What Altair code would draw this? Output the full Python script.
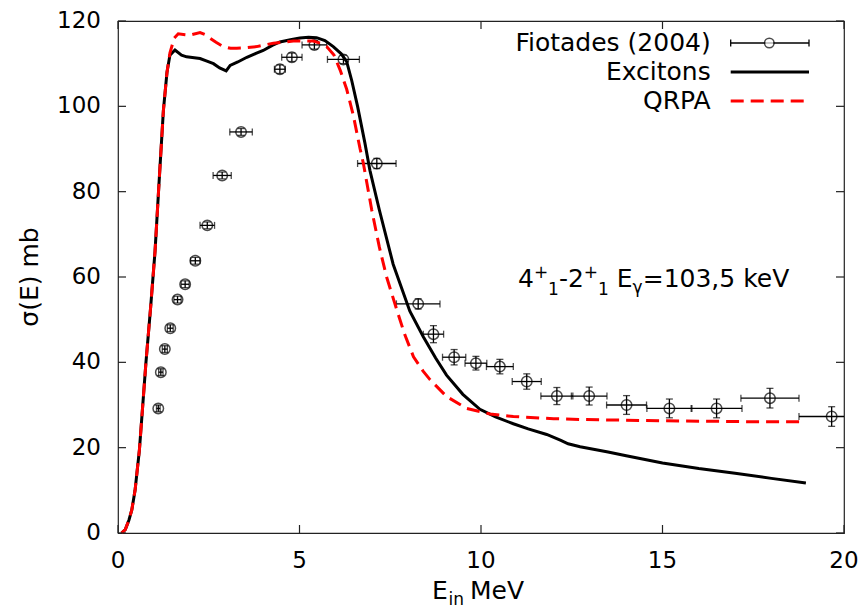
import altair as alt
import pandas as pd

FONT = "DejaVu Sans"

# ---------------- data ----------------
exp_E = [1.11, 1.18, 1.29, 1.44, 1.64, 1.85, 2.13, 2.46, 2.87, 3.39, 4.46, 4.79, 5.41, 6.21,
         7.13, 8.27, 8.69, 9.26, 9.86, 10.52, 11.26, 12.09, 12.98, 14.01, 15.19, 16.49, 17.96, 19.66]
exp_sigma = [29.2, 37.7, 43.1, 48.0, 54.7, 58.3, 63.8, 72.1, 83.8, 94.0, 108.7, 111.5, 114.4, 111.0,
             86.6, 53.7, 46.6, 41.2, 39.8, 39.0, 35.5, 32.1, 32.1, 30.0, 29.2, 29.2, 31.6, 27.3]
exp_dE = [0.05, 0.06, 0.07, 0.08, 0.1, 0.11, 0.13, 0.2, 0.25, 0.31, 0.15, 0.28, 0.34, 0.44,
          0.53, 0.6, 0.28, 0.32, 0.3, 0.37, 0.4, 0.44, 0.49, 0.55, 0.62, 0.7, 0.8, 0.9]
exp_dsigma = [0.8, 0.8, 0.8, 0.8, 0.8, 0.8, 0.8, 0.8, 0.8, 0.8, 1.0, 1.0, 1.0, 1.0,
              1.2, 1.2, 2.0, 1.8, 1.6, 1.7, 1.8, 2.0, 2.1, 2.2, 2.2, 2.2, 2.3, 2.3]

exc_E = [0.1, 0.2, 0.3, 0.38, 0.47, 0.59, 0.77, 0.9, 1.02, 1.13, 1.25, 1.35, 1.43, 1.57, 1.75,
         1.89, 2.1, 2.26, 2.45, 2.63, 2.8, 2.98, 3.09, 3.3, 3.55, 3.8, 4.0, 4.25, 4.46, 4.75,
         5.01, 5.25, 5.47, 5.7, 5.93, 6.15, 6.3, 6.44, 6.6, 6.8, 6.94, 7.2, 7.58, 8.04, 8.41,
         8.75, 9.05, 9.5, 9.97, 10.4, 10.89, 11.3, 11.81, 12.2, 12.4, 12.73, 13.5, 14.0, 15.0,
         16.0, 17.0, 18.0, 18.95]
exc_sigma = [0, 0.8, 3, 5.4, 10, 19.5, 40, 53, 66, 82, 99, 108, 112, 113.2, 112,
             111.6, 111.4, 111.2, 110.6, 110, 109, 108.3, 109.6, 110.4, 111.5, 112.4, 113.1, 114.3, 115.1, 115.6,
             116, 116.2, 116.1, 115.4, 114, 112.3, 110.5, 106, 100, 91.5, 85, 75.7, 63, 52, 46,
             41, 37, 32.5, 29, 27.2, 25.6, 24.4, 23.1, 21.7, 20.9, 20.2, 19.0, 18.1, 16.4,
             15.1, 14.0, 12.8, 11.7]

qrpa_E = [0.1, 0.2, 0.3, 0.38, 0.47, 0.59, 0.77, 0.9, 1.02, 1.13, 1.25, 1.35, 1.43, 1.55, 1.66,
          1.85, 1.98, 2.26, 2.4, 2.53, 2.7, 2.9, 3.1, 3.27, 3.5, 3.82, 4.28, 4.83, 5.38, 5.6,
          5.75, 5.95, 6.12, 6.3, 6.48, 6.67, 6.76, 6.99, 7.2, 7.4, 7.68, 7.9, 8.14, 8.4, 8.6,
          9.05, 9.6, 10.25, 10.89, 12.0, 12.73, 15.02, 17.32, 18.83]
qrpa_sigma = [0, 0.8, 3, 5.4, 10, 19.5, 40, 53, 66, 82, 99, 108, 112.5, 116, 117,
              116.8, 116.7, 117.3, 116.8, 116, 115, 114, 113.6, 113.6, 113.7, 114, 114.8, 115.3, 115.3, 114.7,
              114, 112, 108.5, 104, 98, 90, 86.6, 75.7, 67, 60, 52.3, 46.5, 41.3, 38, 35.9,
              32, 29.2, 27.9, 27.3, 26.8, 26.6, 26.3, 26.1, 26.1]

x_ticks = [0, 5, 10, 15, 20]
y_ticks = [0, 20, 40, 60, 80, 100, 120]

# ---------------- layout ----------------
W, H = 726, 512
TICK = 8
BORDER = "#222222"

xs = alt.Scale(domain=[0, 20], nice=False, zero=False)
ys = alt.Scale(domain=[0, 120], nice=False, zero=False)

exp = pd.DataFrame({"E": exp_E, "s": exp_sigma, "dE": exp_dE, "ds": exp_dsigma})
exp["x_lo"] = exp["E"] - exp["dE"]
exp["x_hi"] = exp["E"] + exp["dE"]
exp["y_lo"] = exp["s"] - exp["ds"]
exp["y_hi"] = exp["s"] + exp["ds"]
exc = pd.DataFrame({"E": exc_E, "s": exc_sigma})
qrpa = pd.DataFrame({"E": qrpa_E, "s": qrpa_sigma})


def X(f):
    return alt.X(f, scale=xs, axis=None)


def Y(f):
    return alt.Y(f, scale=ys, axis=None)


points = alt.Chart(exp).mark_point(shape="circle", filled=False, size=110, color="black",
                                   strokeWidth=1.5, clip=True).encode(x=X("E:Q"), y=Y("s:Q"))
xbar = alt.Chart(exp).mark_rule(color="black", strokeWidth=1.3, clip=True).encode(
    x=X("x_lo:Q"), x2="x_hi:Q", y=Y("s:Q"))
ybar = alt.Chart(exp).mark_rule(color="black", strokeWidth=1.3, clip=True).encode(
    x=X("E:Q"), y=Y("y_lo:Q"), y2="y_hi:Q")
xcap_lo = alt.Chart(exp).mark_tick(orient="vertical", size=7, thickness=1.3, color="black",
                                   clip=True).encode(x=X("x_lo:Q"), y=Y("s:Q"))
xcap_hi = alt.Chart(exp).mark_tick(orient="vertical", size=7, thickness=1.3, color="black",
                                   clip=True).encode(x=X("x_hi:Q"), y=Y("s:Q"))
ycap_lo = alt.Chart(exp).mark_tick(orient="horizontal", size=7, thickness=1.3, color="black",
                                   clip=True).encode(x=X("E:Q"), y=Y("y_lo:Q"))
ycap_hi = alt.Chart(exp).mark_tick(orient="horizontal", size=7, thickness=1.3, color="black",
                                   clip=True).encode(x=X("E:Q"), y=Y("y_hi:Q"))

exc_line = alt.Chart(exc).mark_line(color="black", strokeWidth=3).encode(
    x=X("E:Q"), y=Y("s:Q"), order="E:Q")
qrpa_line = alt.Chart(qrpa).mark_line(color="#ff0000", strokeWidth=3, strokeDash=[13, 7]).encode(
    x=X("E:Q"), y=Y("s:Q"), order="E:Q")

# inward ticks on all four sides, and tick labels
xt = pd.DataFrame({"v": x_ticks})
yt = pd.DataFrame({"v": y_ticks})
tick_style = dict(color=BORDER, strokeWidth=1.2)
tb = alt.Chart(xt).mark_rule(**tick_style).encode(x=X("v:Q"), y=alt.value(H), y2=alt.value(H - TICK))
tt = alt.Chart(xt).mark_rule(**tick_style).encode(x=X("v:Q"), y=alt.value(0), y2=alt.value(TICK))
tl = alt.Chart(yt).mark_rule(**tick_style).encode(y=Y("v:Q"), x=alt.value(0), x2=alt.value(TICK))
tr = alt.Chart(yt).mark_rule(**tick_style).encode(y=Y("v:Q"), x=alt.value(W), x2=alt.value(W - TICK))
xlab = alt.Chart(xt).mark_text(font=FONT, fontSize=23, align="center", baseline="alphabetic",
                               color="black").encode(
    x=X("v:Q"), y=alt.value(H + 35), text=alt.Text("v:Q", format="d"))
ylab = alt.Chart(yt).mark_text(font=FONT, fontSize=23, align="right", baseline="middle",
                               color="black").encode(
    y=Y("v:Q"), x=alt.value(-17), text=alt.Text("v:Q", format="d"))

one = pd.DataFrame({"a": [0]})


def txt(s, x, y, size=25, align="left", baseline="alphabetic", angle=0):
    return alt.Chart(pd.DataFrame({"t": [s]})).mark_text(
        align=align, baseline=baseline, fontSize=size, font=FONT, angle=angle, color="black"
    ).encode(text="t:N", x=alt.value(x), y=alt.value(y))


# legend (inside, top right)
LX_TEXT, LX0, LX1, LXC = 592.7, 612.7, 691, 651.3
R1, R2, R3 = 22, 51, 80
legend = [
    txt("Fiotades (2004)", LX_TEXT, R1, align="right", baseline="middle"),
    txt("Excitons", LX_TEXT, R2, align="right", baseline="middle"),
    txt("QRPA", LX_TEXT, R3, align="right", baseline="middle"),
    alt.Chart(one).mark_rule(color="black", strokeWidth=1.3).encode(
        x=alt.value(LX0), x2=alt.value(LX1), y=alt.value(R1)),
    alt.Chart(one).mark_rule(color="black", strokeWidth=1.3).encode(
        x=alt.value(LX0), y=alt.value(R1 - 3.5), y2=alt.value(R1 + 3.5)),
    alt.Chart(one).mark_rule(color="black", strokeWidth=1.3).encode(
        x=alt.value(LX1), y=alt.value(R1 - 3.5), y2=alt.value(R1 + 3.5)),
    alt.Chart(one).mark_point(shape="circle", filled=True, fill="white", size=90, color="black",
                              stroke="black", strokeWidth=1.5).encode(
        x=alt.value(LXC), y=alt.value(R1)),
    alt.Chart(one).mark_rule(color="black", strokeWidth=3).encode(
        x=alt.value(LX0), x2=alt.value(LX1), y=alt.value(R2)),
    alt.Chart(one).mark_rule(color="#ff0000", strokeWidth=3, strokeDash=[13, 7]).encode(
        x=alt.value(LX0), x2=alt.value(LX1), y=alt.value(R3)),
]

# annotation 4+1-2+1 Eγ=103,5 keV
AB = 266
annot = [
    txt("4", 400, AB),
    txt("+", 415.9, AB - 9, size=17),
    txt("1", 430.1, AB + 8, size=17),
    txt("-2", 440.9, AB),
    txt("+", 465.8, AB - 9, size=17),
    txt("1", 480.0, AB + 8, size=17),
    txt("E", 498.8, AB),
    txt("γ", 514.6, AB + 6, size=17),
    txt("=103,5 keV", 524.7, AB),
]

# axis titles
titles = [
    txt("E", 314, 578),
    txt("in", 330.5, 584, size=17),
    txt("MeV", 352, 578),
    txt("σ(E) mb", -88, 256, align="center", baseline="middle", angle=270),
]

chart = alt.layer(
    points, xbar, ybar, xcap_lo, xcap_hi, ycap_lo, ycap_hi,
    exc_line, qrpa_line, tb, tt, tl, tr, xlab, ylab, *legend, *annot, *titles
).properties(
    width=W, height=H,
    autosize=alt.AutoSizeParams(type="none"),
    padding={"left": 118, "top": 21, "right": 23, "bottom": 75},
    background="white",
).configure_view(
    stroke=BORDER, strokeWidth=1.2
)

chart.save("out.html", embed_options={"renderer": "svg", "actions": False})
